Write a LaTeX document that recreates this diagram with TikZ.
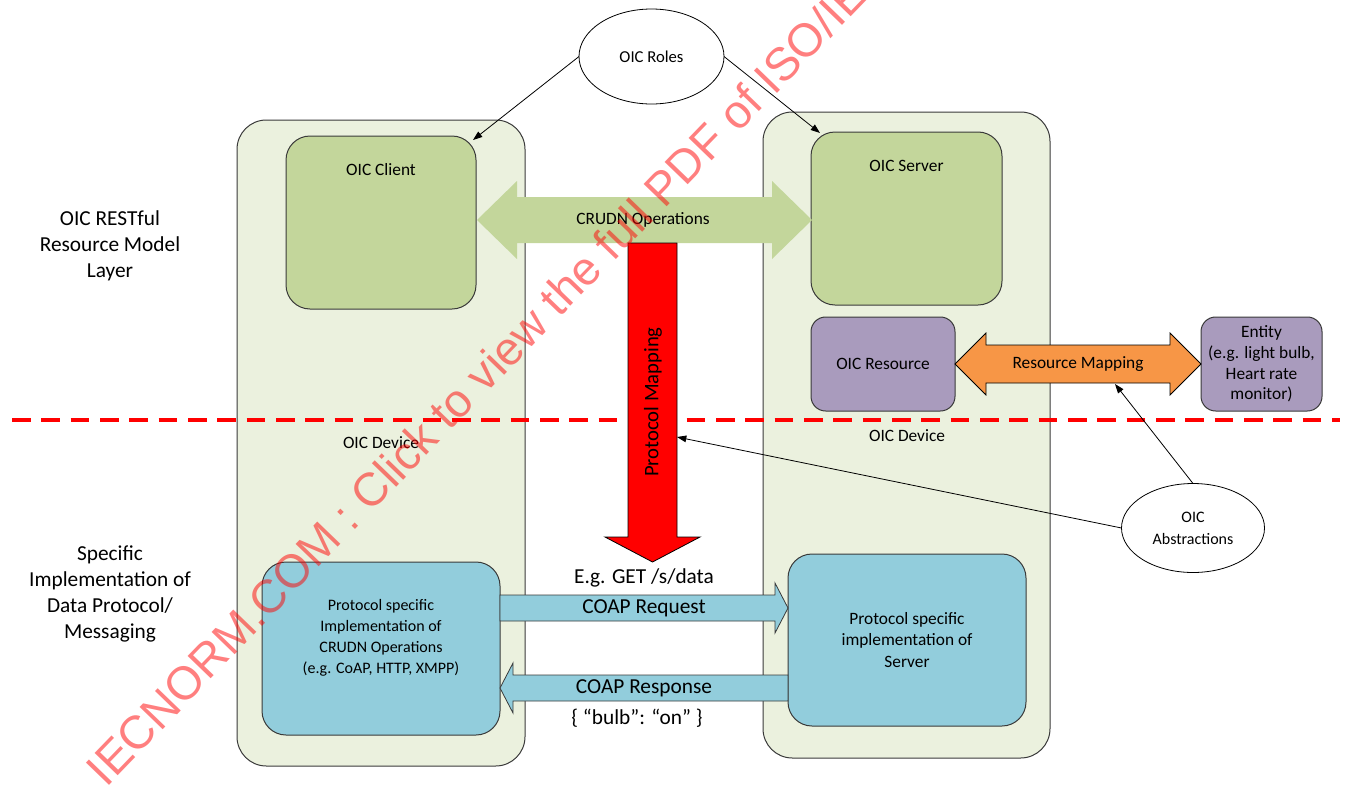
\documentclass[tikz,border=0pt]{standalone}
\usepackage{fontspec}
\setmainfont{Carlito}
\newfontfamily\wmfont{Liberation Sans}
\usetikzlibrary{shapes.geometric,arrows.meta}
\definecolor{panelfill}{HTML}{EBF1DE}
\definecolor{olive}{HTML}{C3D69B}
\definecolor{lilac}{HTML}{A99BBD}
\definecolor{apricot}{HTML}{F79646}
\definecolor{aqua}{HTML}{92CDDC}
\definecolor{rim}{HTML}{3A3A3A}
\newcommand{\fs}[2]{\fontsize{#1}{#2}\selectfont}
\begin{document}
\begin{tikzpicture}[x=0.75pt, y=-0.75pt,
  every node/.style={outer sep=0pt},
  panel/.style={draw=rim, line width=0.75pt, fill=panelfill, rounded corners=22pt},
  rolebox/.style={draw=rim, line width=0.75pt, fill=olive, rounded corners=18pt},
  resbox/.style={draw=rim, line width=0.75pt, fill=lilac, rounded corners=11pt, align=center, inner sep=0pt, font=\fs{13}{15.5}},
  protbox/.style={draw=rim, line width=0.75pt, fill=aqua, rounded corners=18pt, align=center, inner sep=0pt},
  oval/.style={ellipse, draw=black, line width=0.6pt, fill=white, align=center, inner sep=0pt},
  conn/.style={draw=black, line width=0.6pt, -{Triangle[length=7pt,width=5pt]}},
  txt/.style={align=center, inner sep=0pt},
  blockline/.style={line width=0.6pt}
]
\useasboundingbox (0,0) rectangle (1352,785);

% device panels
\node[panel, minimum width=216pt, minimum height=484.5pt] (devL) at (381,443) {};
\node[panel, minimum width=215.25pt, minimum height=484.5pt] (devR) at (906.5,435) {};

% role boxes
\node[rolebox, minimum width=142.5pt, minimum height=129.75pt,
  label={[txt, font=\fs{13}{15.5}, anchor=center, yshift=-25.5pt]north:OIC Client}] (client) at (381,222.5) {};
\node[rolebox, minimum width=143.25pt, minimum height=129.75pt,
  label={[txt, font=\fs{13}{15.5}, anchor=center, yshift=-25.5pt]north:OIC Server}] (server) at (906.5,218.5) {};

% resource boxes
\node[resbox, minimum width=108pt, minimum height=70.5pt] (resource) at (883,364) {OIC Resource};
\node[resbox, minimum width=90.75pt, minimum height=70.5pt] (entity) at (1261.5,364) {Entity\\(e.g. light bulb,\\Heart rate\\monitor)};

% protocol boxes
\node[protbox, minimum width=178.5pt, minimum height=129.75pt,
  label={[txt, font=\fs{12}{15.75}, anchor=center, yshift=8.25pt]center:Protocol specific\\Implementation of\\CRUDN Operations\\(e.g. CoAP, HTTP, XMPP)}] (protL) at (381,648.5) {};
\node[protbox, minimum width=178.5pt, minimum height=129pt, font=\fs{13}{16}] (protR) at (907,640) {Protocol specific\\implementation of\\Server};

% layer divider
\coordinate (dl) at (12,420);
\coordinate (dr) at (1340,420);
\draw[red, line width=2.4pt, dash pattern=on 14pt off 8pt] (dl) -- (dr);

% CRUDN double arrow
\fill[olive] (477,220) -- (517,181) -- (517,197) -- (772,197) -- (772,181) -- (812,220)
  -- (772,259) -- (772,243) -- (517,243) -- (517,259) -- cycle;
\node[txt, font=\fs{13}{15.5}] (crudn) at (643,220) {CRUDN Operations};

% Protocol mapping arrow
\filldraw[fill=red, draw=black, blockline] (628,243) -- (677,243) -- (677,537) -- (700,537)
  -- (652.5,562) -- (605,537) -- (628,537) -- cycle;
\node[txt, rotate=90, font=\fs{15.5}{18}] (pm) at (653,402) {Protocol Mapping};

% Resource mapping arrow
\filldraw[fill=apricot, draw=black, blockline] (955,364) -- (986,333) -- (986,345) -- (1170,345)
  -- (1170,333) -- (1201,364) -- (1170,395) -- (1170,383) -- (986,383) -- (986,395) -- cycle;
\node[txt, font=\fs{13}{15.5}] (rm) at (1078,364) {Resource Mapping};

% COAP arrows
\filldraw[fill=aqua, draw=rim, blockline] (500,595) -- (775,595) -- (775,583) -- (788,608)
  -- (775,633) -- (775,621) -- (500,621) -- cycle;
\filldraw[fill=aqua, draw=rim, blockline] (788,675) -- (513,675) -- (513,663) -- (500,688)
  -- (513,713) -- (513,701) -- (788,701) -- cycle;
\node[txt, font=\fs{16}{19.3}] (req) at (644,608) {COAP Request};
\node[txt, font=\fs{16}{19.3}] (get) at (644,578) {E.g. GET /s/data};
\node[txt, font=\fs{16}{19.3}] (resp) at (644,688) {COAP Response};
\node[txt, font=\fs{16}{19.3}] (bulb) at (637,718) {\{ “bulb”: “on” \}};

% ellipses
\node[oval, minimum width=108.75pt, minimum height=71.25pt, font=\fs{12.5}{15}] (roles) at (651.5,56.5) {OIC Roles};
\node[oval, minimum width=107.25pt, minimum height=66.75pt, font=\fs{12}{16.5}] (abstr) at (1193,528) {OIC\\Abstractions};

% side labels
\node[txt, font=\fs{16}{19.3}] (layerA) at (110,246) {OIC RESTful\\Resource Model\\Layer};
\node[txt, font=\fs{16}{19.3}] (layerB) at (110,594) {Specific\\Implementation of\\Data Protocol/\\Messaging};
\node[txt, font=\fs{13}{15.5}] (devLlbl) at (381,443) {OIC Device};
\node[txt, font=\fs{13}{15.5}] (devRlbl) at (907,436) {OIC Device};

% connectors
\coordinate (pmR) at (677,437);
\coordinate (rmB) at (1115,384);
\draw[conn] (roles.west) -- ([shift={(-3,4)}]client.north east);
\draw[conn] (roles.east) -- ([shift={(9,1)}]server.north west);
\draw[conn] (abstr.west) -- (pmR);
\draw[conn] (abstr.north) -- (rmB);

% watermark
\begin{scope}
\clip (0,0) rectangle (1352,785);
\node[rotate=46, anchor=base west, inner sep=0pt, text=red, text opacity=0.5,
  font=\wmfont\fs{35}{40}] (wm) at (106,788) {IECNORM.COM : Click to view the full PDF of ISO/IE};
\end{scope}
\end{tikzpicture}
\end{document}
